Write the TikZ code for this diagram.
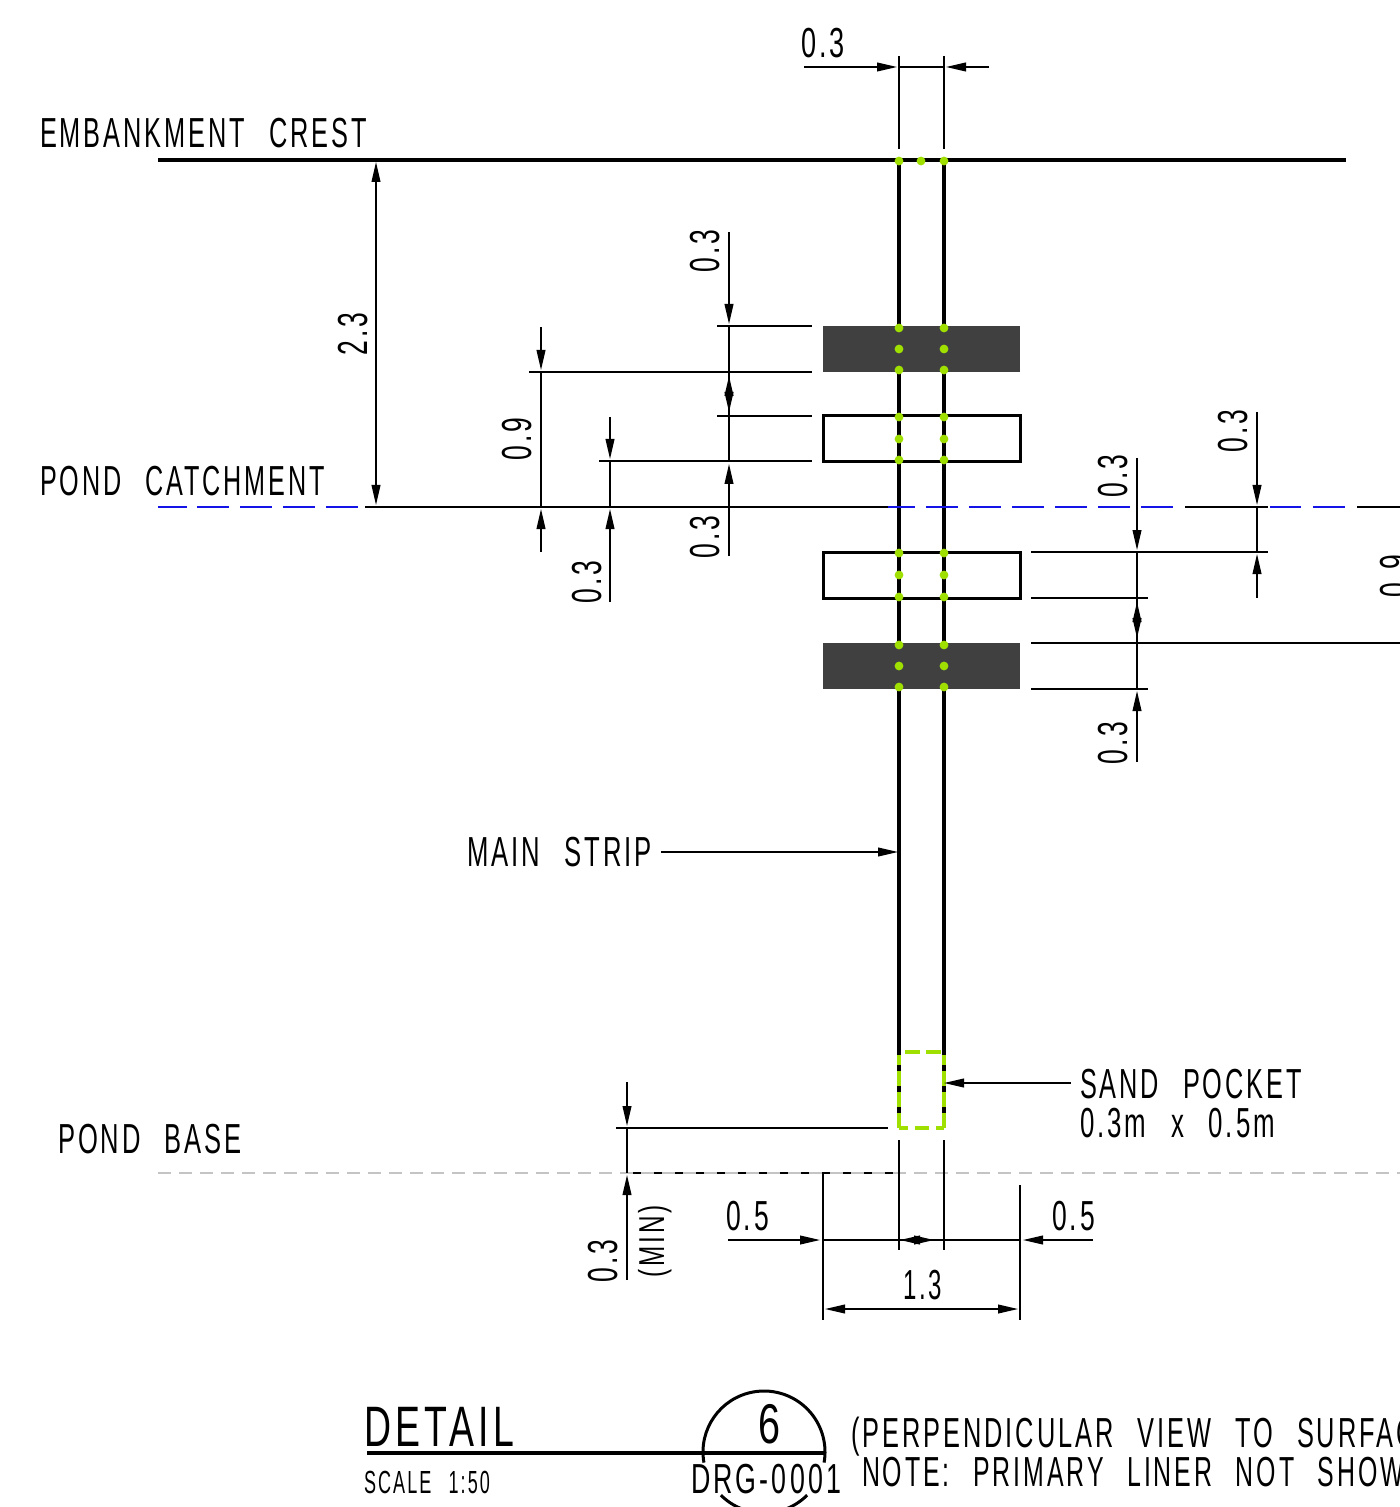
\documentclass[tikz,border=0pt]{standalone}
\usepackage{fontspec}
\usepackage{graphicx}
\usetikzlibrary{arrows.meta}
\newfontfamily\drawfont[FakeStretch=0.6,LetterSpace=7,WordSpace=2.4]{Liberation Sans}
\definecolor{lime}{HTML}{A0E000}
\definecolor{pondblue}{HTML}{1414E6}
\definecolor{pondgray}{HTML}{C4C4C4}
\definecolor{darkfill}{HTML}{404040}
\newcommand\fitw[3][21]{\resizebox{\dimexpr #2pt/2\relax}{\height}{\fontsize{#1}{#1}\drawfont #3}}
\tikzset{
  x=0.5pt,y=-0.5pt,
  label/.style={inner sep=0pt,outer sep=0pt,anchor=base west},
  vlabel/.style={inner sep=0pt,outer sep=0pt,anchor=base,rotate=90},
  thin line/.style={line width=0.7pt,black},
  stripL/.style={line width=1.6pt,black},
  stripR/.style={line width=2pt,black},
  outline/.style={line width=1.5pt,black},
  dim/.style={line width=0.7pt,black,-{Triangle[length=10pt,width=4.4pt]}},
  dotmark/.style={fill=lime,draw=none},
  blue dash/.style={line width=1.1pt,pondblue},
  pocket/.style={lime,line width=2.3pt},
}
\newcommand\greendots[3]{\foreach \yy in {#1,#2,#3}{\fill[dotmark] (899,\yy) circle (2.2pt);\fill[dotmark] (944,\yy) circle (2.2pt);}}
\begin{document}
\begin{tikzpicture}
\clip (0,0) rectangle (1400,1507);
\fill[white] (0,0) rectangle (1400,1507);
% reference levels
\coordinate (crestL) at (158,160); \coordinate (crestR) at (1346,160);
\coordinate (baseL) at (158,1173); \coordinate (baseR) at (1400,1173);
% pond catchment line
\draw[thin line] (365,507) -- (889,507);
\draw[thin line] (1185,507) -- (1268,507);
\draw[thin line] (1357,507) -- (1400,507);
% pond base line
\draw[thin line] (627,1173) -- (899,1173);
\draw[line width=1.2pt,pondgray,dash pattern=on 6.5pt off 4pt] (baseL) -- (baseR);
% dark and open bands
\fill[darkfill] (823,326) rectangle (1020,372);
\fill[darkfill] (823,643) rectangle (1020,689);
% strips
\draw[stripL] (899,160) -- (899,326);
\draw[stripR] (944,160) -- (944,326);
\draw[stripL] (899,372) -- (899,643);
\draw[stripR] (944,372) -- (944,643);
\draw[stripL] (899,689) -- (899,1128);
\draw[stripR] (944,689) -- (944,1128);
\draw[outline] (823,416) rectangle (1020,462);
\draw[outline] (823,552) rectangle (1020,598);
\draw[line width=1.6pt] (crestL) -- (crestR);
\foreach \a/\b in {158/187,197/229,240/272,283/315,326/358,888/915,926/958,969/1001,1012/1044,1055/1087,1098/1130,1141/1173,1270/1301,1313/1345}
  \draw[blue dash] (\a,507) -- (\b,507);
% sand pocket
\coordinate (pocketE) at (944,1083);
\draw[pocket,dash pattern=on 7.5pt off 3pt,dash phase=-3pt] (899,1052) -- (944,1052);
\draw[pocket,dash pattern=on 7.5pt off 3pt] (899,1128) -- (899,1055);
\draw[pocket,dash pattern=on 7.5pt off 3pt] (944,1128) -- (944,1055);
\draw[pocket,dash pattern=on 4.5pt off 3.5pt on 7pt off 3.5pt on 4.5pt] (899,1128) -- (944,1128);
% dots
\fill[dotmark] (899,161) circle (2.2pt);
\fill[dotmark] (921,161) circle (2.2pt);
\fill[dotmark] (944,161) circle (2.2pt);
\greendots{328}{349}{370}
\greendots{417}{439}{460}
\greendots{553}{575}{597}
\greendots{645}{666}{687}
% extension lines
\foreach \x in {899,944} {\draw[thin line] (\x,56) -- (\x,149); \draw[thin line] (\x,1140) -- (\x,1250);}
\draw[thin line] (823,1173) -- (823,1320);
\draw[thin line] (1020,1185) -- (1020,1320);
\draw[thin line] (529,372) -- (812,372);
\draw[thin line] (599,461) -- (812,461);
\draw[thin line] (717,326) -- (812,326);
\draw[thin line] (717,416) -- (812,416);
\draw[thin line] (1031,552) -- (1268,552);
\draw[thin line] (1031,598) -- (1148,598);
\draw[thin line] (1031,643) -- (1400,643);
\draw[thin line] (1031,689) -- (1148,689);
\draw[thin line] (616,1128) -- (888,1128);
% dimension lines
\draw[thin line] (899,67) -- (944,67);
\draw[dim] (804,67) -- (897,67);
\draw[dim] (989,67) -- (946,67);
\draw[dim] (376,240) -- (376,162);
\draw[dim] (376,240) -- (376,505);
\draw[thin line] (541,372) -- (541,507);
\draw[dim] (541,327) -- (541,370);
\draw[dim] (541,552) -- (541,509);
\draw[thin line] (610,461) -- (610,507);
\draw[dim] (610,417) -- (610,459);
\draw[dim] (610,602) -- (610,509);
\draw[thin line] (729,326) -- (729,462);
\draw[dim] (729,232) -- (729,324);
\draw[dim] (729,396) -- (729,376);
\draw[dim] (729,392) -- (729,412);
\draw[dim] (729,556) -- (729,464);
\draw[thin line] (1137,552) -- (1137,689);
\draw[dim] (1137,458) -- (1137,550);
\draw[dim] (1137,622) -- (1137,602);
\draw[dim] (1137,618) -- (1137,638);
\draw[dim] (1137,762) -- (1137,691);
\draw[thin line] (1257,507) -- (1257,552);
\draw[dim] (1257,412) -- (1257,505);
\draw[dim] (1257,598) -- (1257,554);
\draw[thin line] (627,1128) -- (627,1173);
\draw[dim] (627,1082) -- (627,1126);
\draw[dim] (627,1280) -- (627,1175);
\draw[thin line] (823,1240) -- (1020,1240);
\draw[dim] (728,1240) -- (820,1240);
\draw[dim] (1093,1240) -- (1023,1240);
\draw[dim] (920,1240) -- (900,1240);
\draw[dim] (914,1240) -- (934,1240);
\draw[thin line,{Triangle[length=10pt,width=4.4pt]}-{Triangle[length=10pt,width=4.4pt]}] (825,1309) -- (1018,1309);
% leaders
\node[label] (mainstrip) at (467,866) {\fitw{185}{MAIN STRIP}};
\coordinate (stripW) at (898,852);
\coordinate (mainleader) at (661,852);
\draw[dim] (mainleader) -- (stripW);
\coordinate (sandleader) at (1071,1083);
\draw[dim] (sandleader) -- (pocketE);
% texts
\node[label] (crest) at (40,148) {\fitw{327}{EMBANKMENT CREST}};
\node[label] (catch) at (40,495) {\fitw{285}{POND CATCHMENT}};
\node[label] (base) at (58,1153) {\fitw{184}{POND BASE}};
\node[label] (sand1) at (1080,1098) {\fitw{222}{SAND POCKET}};
\node[label] (sand2) at (1080,1137) {\fitw{195}{0.3m x 0.5m}};
\node[label] (t0) at (801,58) {\fitw{44}{0.3}};
\node[label] (t1) at (726,1230) {\fitw{43}{0.5}};
\node[label] (t2) at (1052,1230) {\fitw{43}{0.5}};
\node[label] (t3) at (903,1299) {\fitw{39}{1.3}};
\node[vlabel] (v23) at (367,334) {\fitw{43}{2.3}};
\node[vlabel] (v09) at (531,439) {\fitw{43}{0.9}};
\node[vlabel] (v03a) at (601,582) {\fitw{43}{0.3}};
\node[vlabel] (v03b) at (719,251) {\fitw{43}{0.3}};
\node[vlabel] (v03c) at (719,537) {\fitw{43}{0.3}};
\node[vlabel] (v03d) at (1127,476) {\fitw{43}{0.3}};
\node[vlabel] (v03e) at (1127,743) {\fitw{43}{0.3}};
\node[vlabel] (v03f) at (1247,431) {\fitw{43}{0.3}};
\node[vlabel] (v09r) at (1409,576) {\fitw{43}{0.9}};
\node[vlabel] (v03g) at (617,1261) {\fitw{43}{0.3}};
\node[vlabel] (vmin) at (664,1241) {\fitw[18]{72}{(MIN)}};
% title block
\coordinate (bub) at (764,1452);
\draw[line width=2pt] (367,1453) -- (826,1453);
\draw[line width=1.5pt] ([shift={(190:30.5pt)}]bub) arc[start angle=190,end angle=-10,radius=30.5pt];
\draw[line width=1.5pt] ([shift={(-135:30.5pt)}]bub) arc[start angle=-135,end angle=-45,radius=30.5pt];
\node[label] (detail) at (364,1446) {\fitw[28.5]{150}{DETAIL}};
\node[label] (six) at (758,1443) {\fitw[28]{22}{6}};
\node[label] (drg) at (691,1493) {\fitw{150}{DRG-0001}};
\node[label] (scale) at (364,1493) {\fitw[16]{126}{SCALE 1:50}};
\node[label] (persp) at (851,1447) {\fitw{595}{(PERPENDICULAR VIEW TO SURFACE)}};
\node[label] (note) at (862,1486) {\fitw{563}{NOTE: PRIMARY LINER NOT SHOWN}};
\end{tikzpicture}
\end{document}
